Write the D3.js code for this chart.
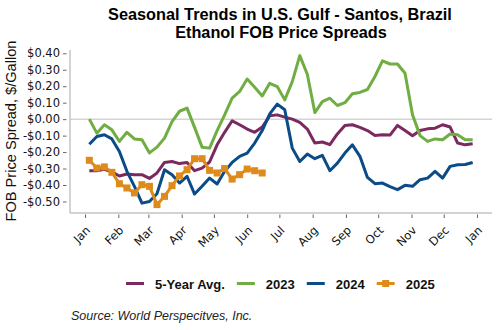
<!DOCTYPE html>
<html>
<head>
<meta charset="utf-8">
<script src="https://cdn.jsdelivr.net/npm/d3@7"></script>
<style>
  body { margin: 0; background: #fff; }
  svg { display: block; }
</style>
</head>
<body>
<svg id="chart" width="500" height="330"></svg>
<script>
// weekly values
var months = ["Jan", "Feb", "Mar", "Apr", "May", "Jun", "Jul", "Aug", "Sep", "Oct", "Nov", "Dec", "Jan"];
var yTicks = [-0.5, -0.4, -0.3, -0.2, -0.1, 0, 0.1, 0.2, 0.3, 0.4];

var avg5 = [-0.313, -0.313, -0.305, -0.32, -0.345, -0.333, -0.337, -0.337, -0.36, -0.327,
    -0.263, -0.257, -0.27, -0.263, -0.313, -0.297, -0.26, -0.156, -0.08, -0.01,
    -0.034, -0.06, -0.08, -0.048, 0.02, 0.026, 0.012, 0.0, -0.02, -0.06,
    -0.145, -0.139, -0.155, -0.09, -0.038, -0.034, -0.05, -0.069, -0.099, -0.095,
    -0.097, -0.038, -0.069, -0.101, -0.069, -0.059, -0.055, -0.034, -0.048, -0.145,
    -0.156, -0.15];

var y2023 = [0.0, -0.085, -0.034, -0.065, -0.135, -0.08, -0.12, -0.125, -0.205, -0.17,
    -0.115, -0.015, 0.048, 0.067, -0.05, -0.17, -0.176, -0.07, 0.026, 0.127,
    0.168, 0.244, 0.194, 0.141, 0.218, 0.198, 0.117, 0.228, 0.386, 0.273,
    0.04, 0.107, 0.127, 0.083, 0.10, 0.154, 0.162, 0.18, 0.259, 0.354,
    0.335, 0.335, 0.279, 0.026, -0.10, -0.135, -0.12, -0.125, -0.09, -0.095,
    -0.125, -0.125];

var y2024 = [-0.152, -0.105, -0.095, -0.12, -0.196, -0.317, -0.408, -0.51, -0.50, -0.453,
    -0.307, -0.337, -0.388, -0.347, -0.455, -0.408, -0.358, -0.394, -0.317, -0.263,
    -0.226, -0.206, -0.145, -0.069, 0.032, 0.091, 0.057, -0.176, -0.257, -0.212,
    -0.24, -0.22, -0.313, -0.267, -0.206, -0.156, -0.226, -0.354, -0.392, -0.388,
    -0.41, -0.428, -0.402, -0.408, -0.368, -0.358, -0.317, -0.358, -0.287, -0.277,
    -0.275, -0.263];

var y2025 = [-0.25, -0.297, -0.29, -0.323, -0.392, -0.418, -0.448, -0.398, -0.408, -0.519,
    -0.469, -0.404, -0.345, -0.307, -0.24, -0.24, -0.311, -0.327, -0.30, -0.364,
    -0.337, -0.303, -0.313, -0.327];

var series = [
    { name: "5-Year Avg.", values: avg5, color: "#7a2a5f", marker: false },
    { name: "2023", values: y2023, color: "#70ad42", marker: false },
    { name: "2024", values: y2024, color: "#0b4b88", marker: false },
    { name: "2025", values: y2025, color: "#de8b1c", marker: true }
];

var svg = d3.select("#chart");

// x = week of year (first week ends Jan 5)
function weekDate(i) { return new Date(2023, 0, 5 + 7 * i); }

var x = d3.scaleTime()
    .domain([new Date(2022, 11, 18), new Date(2024, 0, 15)])
    .range([70, 492]);

var y = d3.scaleLinear()
    .domain([-0.57, 0.42])
    .range([213, 50]);

// title
svg.append("text")
    .attr("x", 280).attr("y", 19.5)
    .attr("text-anchor", "middle")
    .style("font-family", "Liberation Sans, Arial, sans-serif")
    .style("font-weight", "bold")
    .style("font-size", "16.3px")
    .text("Seasonal Trends in U.S. Gulf - Santos, Brazil");
svg.append("text")
    .attr("x", 281).attr("y", 38)
    .attr("text-anchor", "middle")
    .style("font-family", "Liberation Sans, Arial, sans-serif")
    .style("font-weight", "bold")
    .style("font-size", "16.3px")
    .text("Ethanol FOB Price Spreads");

// y axis title
svg.append("text")
    .attr("transform", "translate(16,131) rotate(-90)")
    .attr("text-anchor", "middle")
    .style("font-family", "Liberation Sans, Arial, sans-serif")
    .style("font-size", "14.6px")
    .style("fill", "#111")
    .text("FOB Price Spread, $/Gallon");

// zero line
svg.append("line")
    .attr("x1", 70).attr("x2", 492)
    .attr("y1", y(0)).attr("y2", y(0))
    .style("stroke", "#d4d4d4")
    .style("stroke-width", 1.5);

// y axis
var yAxis = svg.append("g")
    .attr("transform", "translate(66.5,0)")
    .call(d3.axisLeft(y).tickValues(yTicks).tickSize(3.5).tickPadding(3)
        .tickFormat(function(d) {
            var v = Math.abs(d) < 1e-9 ? 0 : d;
            return (v < 0 ? "-" : "") + "$" + Math.abs(v).toFixed(2);
        }));
yAxis.select(".domain").remove();
yAxis.selectAll(".tick line").style("stroke", "#666");
yAxis.selectAll("text")
    .style("font-family", "DejaVu Sans, Verdana, sans-serif")
    .style("font-size", "11.5px")
    .style("fill", "#111");

svg.append("line")
    .attr("x1", 70).attr("x2", 70).attr("y1", 50).attr("y2", 213)
    .style("stroke", "#c4c4c4").style("stroke-width", 1.5);

// x axis
svg.append("line")
    .attr("x1", 70).attr("x2", 492).attr("y1", 213).attr("y2", 213)
    .style("stroke", "#c4c4c4").style("stroke-width", 1.5);

var monthStarts = d3.timeMonth.range(new Date(2023, 0, 1), new Date(2024, 0, 2));

var xAxis = svg.append("g")
    .attr("transform", "translate(0,214.5)")
    .call(d3.axisBottom(x).tickValues(monthStarts).tickSize(3.5)
        .tickFormat(function(d, i) { return months[i]; }));
xAxis.select(".domain").remove();
xAxis.selectAll(".tick line").style("stroke", "#666");
xAxis.selectAll("text")
    .attr("y", 0).attr("dy", 0)
    .attr("text-anchor", "end")
    .attr("transform", "translate(5.5,16.5) rotate(-45)")
    .style("font-family", "DejaVu Sans, Verdana, sans-serif")
    .style("font-size", "11.6px")
    .style("fill", "#111");

// lines
var line = d3.line()
    .x(function(d, i) { return x(weekDate(i)); })
    .y(function(d) { return y(d); });

series.forEach(function(s) {
    svg.append("path")
        .datum(s.values)
        .attr("d", line)
        .style("fill", "none")
        .style("stroke", s.color)
        .style("stroke-width", 3)
        .style("stroke-linejoin", "round");
    if (s.marker) {
        svg.selectAll(".mk")
            .data(s.values)
            .enter()
            .append("rect")
            .attr("x", function(d, i) { return x(weekDate(i)) - 3.5; })
            .attr("y", function(d) { return y(d) - 3.5; })
            .attr("width", 7).attr("height", 7)
            .style("fill", s.color);
    }
});

// legend
var lx = 126;
series.forEach(function(s) {
    var g = svg.append("g").attr("transform", "translate(" + lx + ",283.5)");
    g.append("line")
        .attr("x1", 0).attr("x2", 18)
        .style("stroke", s.color).style("stroke-width", 3);
    if (s.marker) {
        g.append("rect").attr("x", 5.5).attr("y", -3.5).attr("width", 7).attr("height", 7)
            .style("fill", s.color);
    }
    var t = g.append("text")
        .attr("x", 29).attr("y", 5)
        .style("font-family", "Liberation Sans, Arial, sans-serif")
        .style("font-weight", "bold")
        .style("font-size", "13px")
        .style("fill", "#111")
        .text(s.name);
    lx += 29 + t.node().getComputedTextLength() + 12;
});

// source
svg.append("text")
    .attr("x", 71).attr("y", 320)
    .style("font-family", "Liberation Sans, Arial, sans-serif")
    .style("font-style", "italic")
    .style("font-size", "12.5px")
    .style("fill", "#222")
    .text("Source: World Perspecitves, Inc.");
</script>
</body>
</html>
